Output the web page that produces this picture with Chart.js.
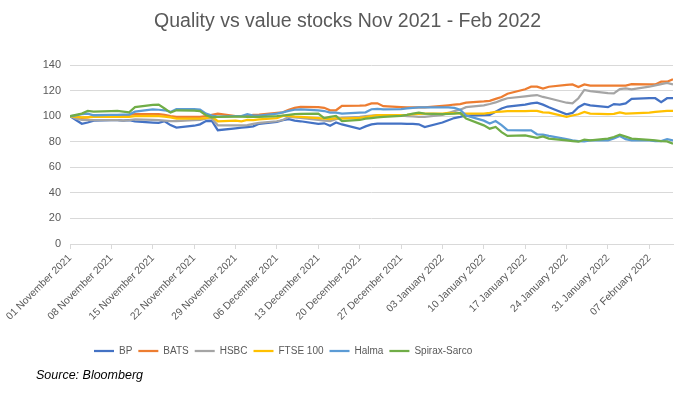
<!DOCTYPE html>
<html>
<head>
<meta charset="utf-8">
<script src="https://cdn.jsdelivr.net/npm/chart.js@4.4.1/dist/chart.umd.min.js"></script>
<style>
  html, body { margin: 0; padding: 0; background: #fff; }
  #wrap { position: relative; width: 695px; height: 397px; }
  #source { position: absolute; left: 36px; top: 368px; font: italic 12.5px "Liberation Sans", Arial, sans-serif; color: #000; }
</style>
</head>
<body>
<div id="wrap">
  <canvas id="myChart" width="695" height="397"></canvas>
  <div id="source">Source: Bloomberg</div>
</div>
<script>
// trading days (weekdays) on the chart
var dates = [
  '2021-11-01','2021-11-02','2021-11-03','2021-11-04','2021-11-05',
  '2021-11-08','2021-11-09','2021-11-10','2021-11-11','2021-11-12',
  '2021-11-15','2021-11-16','2021-11-17','2021-11-18','2021-11-19',
  '2021-11-22','2021-11-23','2021-11-24','2021-11-25','2021-11-26',
  '2021-11-29','2021-11-30','2021-12-01','2021-12-02','2021-12-03',
  '2021-12-06','2021-12-07','2021-12-08','2021-12-09','2021-12-10',
  '2021-12-13','2021-12-14','2021-12-15','2021-12-16','2021-12-17',
  '2021-12-20','2021-12-21','2021-12-22','2021-12-23','2021-12-24',
  '2021-12-27','2021-12-28','2021-12-29','2021-12-30','2021-12-31',
  '2022-01-03','2022-01-04','2022-01-05','2022-01-06','2022-01-07',
  '2022-01-10','2022-01-11','2022-01-12','2022-01-13','2022-01-14',
  '2022-01-17','2022-01-18','2022-01-19','2022-01-20','2022-01-21',
  '2022-01-24','2022-01-25','2022-01-26','2022-01-27','2022-01-28',
  '2022-01-31','2022-02-01','2022-02-02','2022-02-03','2022-02-04',
  '2022-02-07','2022-02-08','2022-02-09','2022-02-10','2022-02-11'
];

var bp = [
  100, 97, 94, 95, 96.5,
  96.8, 96.8, 96.5, 96.8, 96,
  95, 94.7, 96, 93, 91,
  92.5, 93.6, 96.2, 96.2, 89,
  90.5, 91, 91.5, 92, 94,
  95.5, 96.8, 97.6, 96.5, 96,
  94, 94.4, 92.5, 95, 93.5,
  90, 92, 93.5, 94.2, 94.2,
  94.2, 94, 94, 93.6, 91.5,
  95, 96.8, 98.5, 99.4, 100.5,
  100.7, 101, 103.5, 106, 107.5,
  109, 110, 110.5, 109, 107,
  101.5, 102.5, 107, 109.5, 108.5,
  107, 109.4, 109, 110, 113.5,
  114, 114, 111, 114, 114
];
var bats = [
  100, 99, 98.6, 99, 99.9,
  100, 100.2, 100.5, 101, 101.5,
  101.5, 101.5, 101, 100, 99.4,
  99.4, 99.4, 100, 101, 102,
  100, 100, 100.2, 101, 101.2,
  102.5, 103, 105, 106.5, 107.3,
  107, 106.5, 104.6, 104.6, 108,
  108.2, 108.5, 110, 110, 107.8,
  107, 106.8, 106.8, 106.8, 106.8,
  108, 108.5, 109.1, 109.4, 110.5,
  111.5, 112, 113.5, 115, 117.5,
  121, 123, 123, 121.5, 123,
  124.5, 124.8, 122.7, 124.8, 123.8,
  123.8, 123.8, 123.8, 123.8, 125,
  124.8, 124.8, 126.9, 126.9, 128.8
];
var hsbc = [
  100, 98, 97, 96.8, 96.8,
  96.8, 96.8, 96.5, 96.8, 97.5,
  97, 96.8, 96.5, 96.2, 96.2,
  96.8, 97, 98, 98, 92.8,
  92.8, 92.8, 93, 94, 94.7,
  96, 97, 99.4, 99, 98.6,
  97, 96.5, 96.2, 97.6, 98.6,
  99.5, 100, 100.5, 100.7, 100.7,
  100.5, 100, 99.8, 99.5, 99.4,
  101, 102.5, 104, 105, 107,
  108.5, 109.5, 110.7, 112.5, 114,
  115.5, 116, 116.5, 115, 114,
  110.5, 110, 114, 120.5, 119.5,
  118, 117.8, 121.2, 121.7, 121,
  123, 124, 125, 126, 124.8
];
var ftse = [
  100, 99.4, 99, 99, 99.4,
  99.4, 99.4, 99.5, 99.4, 100,
  100.2, 100, 99.6, 99, 98.1,
  98.1, 98.1, 98.5, 99.4, 96,
  96.5, 96, 97, 96.8, 97.5,
  98.5, 100.2, 100.2, 99.6, 99.5,
  98.5, 98, 97.6, 98.5, 98.1,
  98.6, 99.2, 100, 100.7, 100.7,
  100.7, 101, 101.5, 101.8, 102,
  102, 102.5, 102.3, 102, 102,
  102, 102.5, 103.3, 103.6, 104,
  104, 104.1, 104.1, 103, 102.8,
  99.5, 100.5, 101.5, 103.3, 102,
  101.5, 101.8, 103, 102, 102.2,
  102.8, 103.3, 103.8, 104.1, 104.1
];
var halma = [
  100, 100.5, 101.5, 102, 100.7,
  101, 101, 101.2, 101.2, 103.5,
  105.2, 105, 104.6, 103.3, 105.5,
  105.5, 105.2, 102, 100.5, 99.6,
  100, 100, 101.5, 100.5, 100.5,
  102, 103, 104.1, 105, 105.2,
  104.5, 104, 102.8, 102.8, 102,
  102.8, 103, 105.4, 105.6, 105.2,
  105.5, 106, 106.5, 106.8, 106.8,
  106.8, 106.8, 106.5, 105, 100.5,
  96.5, 94.2, 96.2, 93, 89,
  88.9, 88.9, 85.8, 85.5, 84.5,
  82, 81, 80.5, 80.3, 81,
  81, 82.5, 84.5, 82, 81,
  81, 80.5, 80.5, 82, 81
];
var spirax = [
  100, 101, 102, 104.1, 103.5,
  104, 104.1, 103.5, 103, 107,
  108.8, 109, 106, 102.8, 104.6,
  104.3, 104, 100.7, 99, 99.4,
  99.6, 99.6, 99.5, 99.4, 99.4,
  100, 100.5, 101, 101.5, 101.8,
  102, 98.5, 99.5, 100.2, 96.2,
  97, 98, 98.5, 99, 99.5,
  100.2, 101, 102, 102.8, 102,
  101.5, 101.8, 102, 102.5, 98.1,
  92.8, 90.2, 91.5, 87.5, 84.5,
  85, 84, 83.1, 84.2, 82.4,
  81, 80.5, 80, 81.6, 81,
  82.5, 83.7, 85.5, 84, 82.4,
  81.5, 81, 80.5, 80.3, 78.5
];

var names = ['BP', 'BATS', 'HSBC', 'FTSE 100', 'Halma', 'Spirax-Sarco'];
var colors = ['#4472C4', '#ED7D31', '#A5A5A5', '#FFC000', '#5B9BD5', '#70AD47'];
var series = [bp, bats, hsbc, ftse, halma, spirax];
var yTicks = [0, 20, 40, 60, 80, 100, 120, 140];
var months = ['January','February','March','April','May','June','July','August','September','October','November','December'];

var startMs = Date.UTC(2021, 10, 1);
var dayMs = 86400000;
function dayIndex(s) { // date string -> days since 01 Nov 2021
  var p = s.split('-');
  return Math.round((Date.UTC(+p[0], +p[1] - 1, +p[2]) - startMs) / dayMs);
}
function fmtDay(v) { // days since start -> "01 November 2021"
  var d = new Date(startMs + v * dayMs);
  var dd = d.getUTCDate();
  return (dd < 10 ? '0' : '') + dd + ' ' + months[d.getUTCMonth()] + ' ' + d.getUTCFullYear();
}
var lastDay = dayIndex(dates[dates.length - 1]);

var datasets = series.map(function (vals, i) {
  return {
    label: names[i],
    data: vals.map(function (v, j) { return { x: dayIndex(dates[j]), y: v }; }),
    borderColor: colors[i],
    backgroundColor: colors[i],
    borderWidth: 2.25,
    pointRadius: 0,
    tension: 0,
    order: series.length - i // later series drawn on top, like Excel
  };
});

// title centred on the whole picture, legend left of centre under the plot
var boxPlace = {
  id: 'boxPlace',
  afterLayout: function (chart) {
    var t = chart.titleBlock;
    if (t) { t.left = 0; t.right = chart.width; }
    var lg = chart.legend;
    var h = lg.bottom - lg.top;
    lg.left = 94 - lg.options.labels.padding;
    lg.top = 353 - h / 2;
    lg.bottom = lg.top + h;
  }
};

var ctx = document.getElementById('myChart');
var myChart = new Chart(ctx, {
  type: 'line',
  data: { datasets: datasets },
  plugins: [boxPlace],
  options: {
    responsive: false,
    animation: false,
    layout: { padding: { left: 10, right: 22, top: 8, bottom: 46 } },
    plugins: {
      title: {
        display: true,
        text: 'Quality vs value stocks Nov 2021 - Feb 2022',
        color: '#595959',
        font: { family: '"Liberation Sans", Arial, sans-serif', size: 19.5, weight: 'normal' },
        padding: { top: 2, bottom: 31.6 }
      },
      legend: {
        position: 'bottom',
        align: 'start',
        labels: {
          color: '#595959',
          font: { family: '"Liberation Sans", Arial, sans-serif', size: 10 },
          usePointStyle: true,
          pointStyle: 'line',
          pointStyleWidth: 20,
          boxWidth: 20,
          padding: 6,
          sort: function (a, b) { return a.datasetIndex - b.datasetIndex; }
        }
      },
      tooltip: { enabled: false }
    },
    scales: {
      x: {
        type: 'linear',
        min: 0,
        max: lastDay,
        afterFit: function (axis) { axis.height = 81; },
        grid: { display: true, drawOnChartArea: false, drawTicks: true, tickLength: 5, color: '#D9D9D9' },
        border: { display: true, color: '#D9D9D9' },
        ticks: {
          stepSize: 7,
          includeBounds: false,
          autoSkip: false,
          maxRotation: 45,
          minRotation: 45,
          color: '#595959',
          font: { family: '"Liberation Sans", Arial, sans-serif', size: 10.3 },
          callback: function (v) { return fmtDay(v); }
        }
      },
      y: {
        min: yTicks[0],
        max: yTicks[yTicks.length - 1],
        afterBuildTicks: function (axis) { axis.ticks = yTicks.map(function (v) { return { value: v }; }); },
        afterFit: function (axis) { axis.width = 60; },
        grid: { color: '#D9D9D9', drawTicks: false },
        border: { display: false },
        ticks: {
          padding: 9,
          color: '#595959',
          font: { family: '"Liberation Sans", Arial, sans-serif', size: 11 }
        }
      }
    }
  }
});
</script>
</body>
</html>
